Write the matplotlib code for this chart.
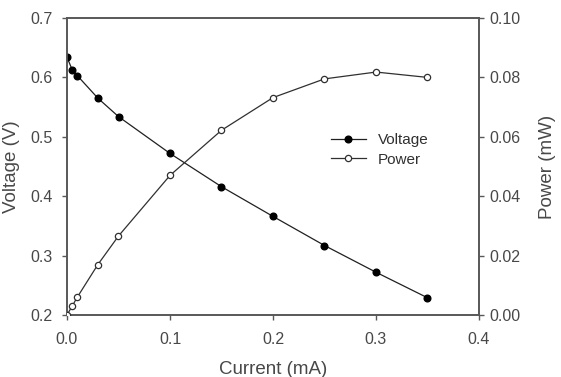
import matplotlib
matplotlib.use("Agg")
import matplotlib.pyplot as plt

current = [0.0, 0.005, 0.01, 0.03, 0.05, 0.1, 0.15, 0.2, 0.25, 0.3, 0.35]
voltage = [0.634, 0.613, 0.603, 0.565, 0.534, 0.472, 0.416, 0.366, 0.317, 0.272, 0.229]
power = [0.0, 0.003, 0.006, 0.017, 0.0266, 0.047, 0.0622, 0.0732, 0.0795, 0.0818, 0.0800]

plt.rcParams['font.family'] = ['Liberation Sans', 'DejaVu Sans']
gray = '#585858'
txt = '#484848'

fig = plt.figure(figsize=(5.61, 3.77), dpi=100)
ax = fig.add_axes([67/561, 62/377, 412/561, 297/377])
ax2 = ax.twinx()

l1, = ax.plot(current, voltage, color='#202020', lw=0.9, marker='o', ms=4.8,
              mfc='black', mec='black', label='Voltage', zorder=3)
l2, = ax2.plot(current, power, color='#303030', lw=0.9, marker='o', ms=4.5,
               mfc='white', mec='#303030', mew=0.9, label='Power', zorder=3)

ax.set_xlim(0, 0.4)
ax.set_ylim(0.2, 0.7)
ax2.set_ylim(0, 0.10)
ax.set_xticks([0.0, 0.1, 0.2, 0.3, 0.4])
ax.set_xticklabels(['0.0', '0.1', '0.2', '0.3', '0.4'])
ax.set_yticks([0.2, 0.3, 0.4, 0.5, 0.6, 0.7])
ax.set_yticklabels(['0.2', '0.3', '0.4', '0.5', '0.6', '0.7'])
ax2.set_yticks([0.0, 0.02, 0.04, 0.06, 0.08, 0.10])
ax2.set_yticklabels(['0.00', '0.02', '0.04', '0.06', '0.08', '0.10'])

for a in (ax, ax2):
    for s in a.spines.values():
        s.set_color(gray)
        s.set_linewidth(1.2)
    a.tick_params(direction='out', length=3.5, width=1, color=gray, labelcolor=txt, labelsize=11.5)
ax.tick_params(axis='x', pad=8.5)
ax.tick_params(axis='y', pad=7)
ax2.tick_params(axis='y', pad=4)

ax.set_xlabel('Current (mA)', fontsize=13.5, color=txt)
ax.set_ylabel('Voltage (V)', fontsize=13.5, color=txt)
ax2.set_ylabel('Power (mW)', fontsize=13.5, color=txt)
ax.xaxis.label.set_va('center')
ax.yaxis.label.set_va('center')
ax2.yaxis.label.set_va('center')
ax.xaxis.set_label_coords(0.5, -0.183)
ax.yaxis.set_label_coords(-0.134, 0.5)
ax2.yaxis.set_label_coords(1.167, 0.5)

leg = ax.legend(handles=[l1, l2], loc='upper left', bbox_to_anchor=(0.64, 0.612),
                frameon=False, fontsize=11, handlelength=2.3, handletextpad=0.8,
                labelspacing=0.35, borderpad=0.0, borderaxespad=0.0)
for t in leg.get_texts():
    t.set_color('#303030')

fig.savefig('out.png', dpi=100)
